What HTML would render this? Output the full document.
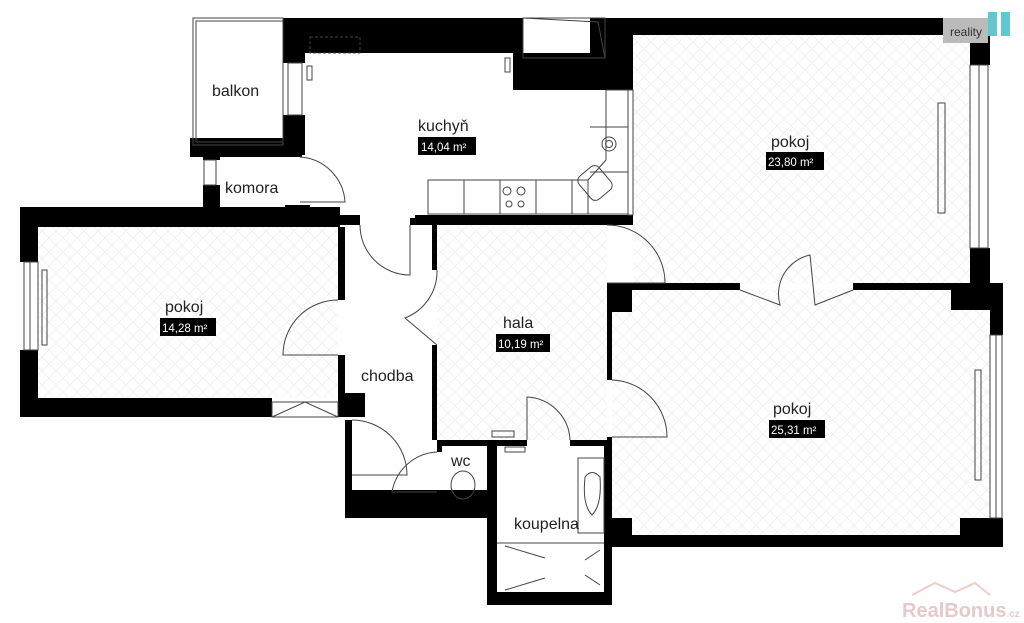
<!DOCTYPE html>
<html><head><meta charset="utf-8"><style>
html,body{margin:0;padding:0;background:#fff;width:1024px;height:623px;overflow:hidden}
svg{display:block}
text{font-family:"Liberation Sans",sans-serif}
.l{font-size:16px;fill:#222}
.a{font-size:11.5px;fill:#fff}
</style></head><body>
<svg width="1024" height="623" viewBox="0 0 1024 623" xmlns="http://www.w3.org/2000/svg">
<defs>
<pattern id="hb" width="14" height="14" patternUnits="userSpaceOnUse">
<path d="M0 7 L7 0 M7 14 L14 7 M0 7 L7 14 M7 0 L14 7" stroke="#f1f1f1" stroke-width="1" fill="none"/>
</pattern>
</defs>
<rect width="1024" height="623" fill="#fff"/>
<!-- floor hatching -->
<rect x="38" y="227" width="300" height="171" fill="url(#hb)"/>
<rect x="633" y="35" width="337" height="248" fill="url(#hb)"/>
<rect x="612" y="290" width="378" height="245" fill="url(#hb)"/>
<rect x="437" y="225" width="170" height="215" fill="url(#hb)"/>
<g fill="#000">
<!-- kitchen top -->
<rect x="283" y="18" width="240" height="35"/>
<rect x="513" y="53" width="80" height="37"/>
<rect x="590" y="18" width="43" height="72"/>
<rect x="283" y="18" width="22" height="45"/>
<rect x="283" y="115" width="22" height="40"/>
<!-- right top room -->
<rect x="600" y="18" width="343" height="17"/>
<rect x="970" y="35" width="20" height="30"/>
<rect x="970" y="248" width="20" height="37"/>
<rect x="951" y="283" width="52" height="27"/>
<rect x="607" y="283" width="133" height="7"/>
<rect x="853" y="283" width="110" height="7"/>
<rect x="600" y="215" width="33" height="10"/>
<!-- bottom right room -->
<rect x="607" y="283" width="25" height="29"/>
<rect x="607" y="290" width="5" height="90"/>
<rect x="607" y="437" width="5" height="110"/>
<rect x="607" y="518" width="25" height="29"/>
<rect x="607" y="535" width="396" height="12"/>
<rect x="990" y="283" width="13" height="52"/>
<rect x="990" y="518" width="13" height="29"/>
<rect x="960" y="518" width="43" height="29"/>
<!-- left room -->
<rect x="20" y="207" width="320" height="20"/>
<rect x="20" y="207" width="18" height="55"/>
<rect x="20" y="350" width="18" height="67"/>
<rect x="20" y="398" width="252" height="19"/>
<rect x="338" y="227" width="7" height="73"/>
<rect x="338" y="355" width="7" height="43"/>
<rect x="338" y="393" width="27" height="24"/>
<!-- komora -->
<rect x="190" y="138" width="112" height="19"/>
<rect x="203" y="138" width="17" height="22"/>
<rect x="203" y="185" width="17" height="42"/>
<rect x="285" y="205" width="25" height="22"/>
<!-- kitchen/hall wall -->
<rect x="300" y="215" width="60" height="10"/>
<rect x="415" y="215" width="195" height="10"/>
<rect x="410" y="218" width="22" height="7"/>
<rect x="432" y="225" width="5" height="45"/>
<rect x="432" y="345" width="5" height="95"/>
<!-- chodba lower -->
<rect x="345" y="420" width="7" height="98"/>
<rect x="345" y="490" width="147" height="28"/>
<rect x="437" y="440" width="55" height="6"/>
<rect x="437" y="440" width="5" height="12"/>
<!-- koupelna -->
<rect x="487" y="440" width="10" height="165"/>
<rect x="487" y="592" width="125" height="13"/>
<rect x="604" y="440" width="8" height="165"/>
<rect x="497" y="440" width="30" height="6"/>
<rect x="570" y="440" width="40" height="6"/>
</g>
<g fill="none" stroke="#444" stroke-width="1">
<!-- balkon -->
<rect x="193" y="18" width="90" height="127"/>
<rect x="196" y="21" width="87" height="121"/>
<!-- windows -->
<rect x="288" y="63" width="14" height="52"/>
<rect x="970" y="65" width="18" height="183"/>
<line x1="979" y1="65" x2="979" y2="248"/>
<rect x="990" y="335" width="12" height="183"/>
<line x1="996" y1="335" x2="996" y2="518"/>
<rect x="24" y="262" width="14" height="88"/>
<line x1="30" y1="262" x2="30" y2="350"/>
<rect x="628" y="90" width="5" height="125"/>
<rect x="204" y="160" width="12" height="25"/>
<rect x="272" y="402" width="66" height="15"/>
<path d="M272 417 L305 402 L338 417"/>
<rect x="523" y="18" width="82" height="40"/>
<path d="M523 18 L598 22 L605 58"/>
<rect x="310" y="37" width="50" height="16" stroke-dasharray="3 2"/>
<!-- kitchen counters -->
<rect x="428" y="180" width="160" height="34"/>
<line x1="464" y1="180" x2="464" y2="214"/><line x1="500" y1="180" x2="500" y2="214"/><line x1="536" y1="180" x2="536" y2="214"/><line x1="572" y1="180" x2="572" y2="214"/>
<path d="M588 180 L606 160 L606 90 L628 90 M588 214 L628 214"/>
<line x1="590" y1="127" x2="628" y2="127"/><line x1="590" y1="172" x2="628" y2="172"/>
<circle cx="507" cy="191" r="4"/><circle cx="521" cy="191" r="4"/><circle cx="509" cy="204" r="3"/><circle cx="521" cy="204" r="3"/>
<circle cx="609" cy="144" r="7"/><circle cx="609" cy="144" r="3.5"/>
<rect x="582" y="168" width="26" height="30" rx="6" transform="rotate(-40 595 183)"/>
<rect x="307" y="66" width="5" height="14"/><rect x="505" y="58" width="5" height="14"/>
<rect x="938" y="103" width="7" height="110"/>
<rect x="975" y="370" width="6" height="110"/>
<rect x="42" y="270" width="5" height="75"/>
<!-- doors -->
<path d="M300 157 A48 48 0 0 1 345 202 L300 202"/>
<path d="M360 225 A50 50 0 0 0 410 275 L410 225"/>
<path d="M338 300 A55 55 0 0 0 283 355 L338 355"/>
<path d="M437 270 A50 50 0 0 1 405 318 L437 345"/>
<path d="M607 225 A58 58 0 0 1 665 283 L607 283"/>
<path d="M612 380 A57 57 0 0 1 667 437 L612 437"/>
<path d="M740 290 L780 305 A40 40 0 0 1 810 255 L815 305 L853 290"/>
<path d="M352 420 A55 55 0 0 1 407 475 L352 475"/>
<path d="M437 452 A48 48 0 0 0 392 492 L437 492"/>
<path d="M527 440 L527 397 A45 45 0 0 1 570 440"/>
<rect x="492" y="431" width="22" height="6"/>
<rect x="505" y="447" width="20" height="5"/>
<ellipse cx="463" cy="485" rx="12" ry="14"/>
<rect x="578" y="458" width="26" height="75"/>
<path d="M585 477 Q582 505 592 515 Q602 505 600 477 Q592 468 585 477Z"/>
<line x1="497" y1="543" x2="604" y2="543"/>
<path d="M505 546 L545 558 M505 590 L545 578 M600 550 L585 560 M600 585 L585 575"/>
</g>
<!-- labels -->
<text class="l" x="212" y="96">balkon</text>
<text class="l" x="418" y="131">kuchyň</text>
<rect x="418" y="137" width="58" height="18" fill="#000"/><text class="a" x="421" y="151">14,04 m²</text>
<text class="l" x="225" y="193">komora</text>
<text class="l" x="771" y="147">pokoj</text>
<rect x="766" y="152" width="58" height="18" fill="#000"/><text class="a" x="768" y="166">23,80 m²</text>
<text class="l" x="165" y="312">pokoj</text>
<rect x="160" y="318" width="56" height="18" fill="#000"/><text class="a" x="162" y="332">14,28 m²</text>
<text class="l" x="503" y="328">hala</text>
<rect x="496" y="334" width="54" height="18" fill="#000"/><text class="a" x="498" y="348">10,19 m²</text>
<text class="l" x="361" y="381">chodba</text>
<text class="l" x="773" y="414">pokoj</text>
<rect x="769" y="420" width="56" height="18" fill="#000"/><text class="a" x="771" y="434">25,31 m²</text>
<text class="l" x="451" y="466">wc</text>
<text class="l" x="514" y="529">koupelna</text>
<!-- logos -->
<rect x="943" y="18" width="45" height="25" fill="#bbb"/>
<text x="950" y="36" font-size="12" fill="#333">reality</text>
<rect x="988" y="12" width="9" height="24" fill="#5fc9cf"/>
<rect x="1001" y="12" width="9" height="24" fill="#5fc9cf"/>
<text x="902" y="617" font-size="20" font-weight="bold" fill="#e8c9c9">RealBonus<tspan font-size="10">.cz</tspan></text>
<path d="M912 595 L935 583 L955 592 L975 583 L990 595" fill="none" stroke="#ecc" stroke-width="2"/>
</svg>
</body></html>
